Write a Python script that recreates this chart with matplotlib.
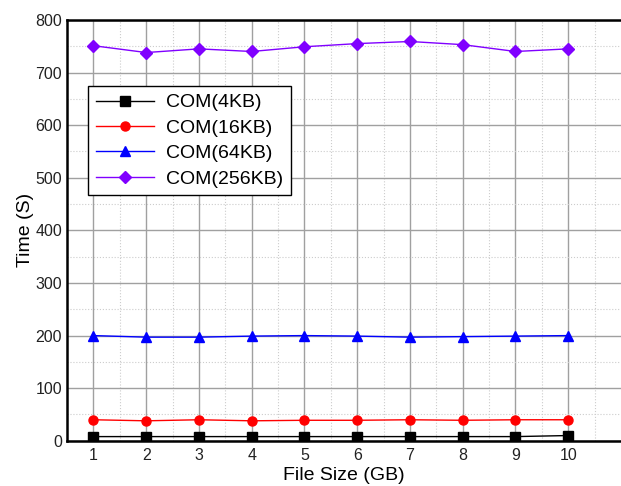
import numpy as np
import matplotlib.pyplot as plt

plt.rcParams['font.family'] = ['Liberation Sans', 'DejaVu Sans']

# file size in GB
sizes = [1, 2, 3, 4, 5, 6, 7, 8, 9, 10]

# time in seconds for each chunk size
com_4kb = [8, 8, 8, 8, 8, 8, 8, 8, 8, 10]
com_16kb = [40, 38, 40, 38, 39, 39, 40, 39, 40, 40]
com_64kb = [200, 197, 197, 199, 200, 199, 197, 198, 199, 200]
com_256kb = [751, 738, 745, 740, 749, 755, 759, 753, 740, 745]

series = [
    ("COM(4KB)", com_4kb, "black", "s"),
    ("COM(16KB)", com_16kb, "red", "o"),
    ("COM(64KB)", com_64kb, "blue", "^"),
    ("COM(256KB)", com_256kb, "#8000ff", "D"),
]

fig = plt.figure(figsize=(6.21, 4.86), dpi=100)
ax = fig.add_axes([0.108, 0.093, 0.892, 0.866])

for label, vals, col, mk in series:
    ax.plot(sizes, vals, color=col, marker=mk, markersize=6.5, linewidth=1, label=label)

ax.set_xlim(0.5, 11)
ax.set_ylim(0, 800)
ax.set_xticks(sizes)
ax.set_yticks(np.arange(0, 801, 100))
ax.set_xticks(np.arange(1.5, 10.6, 1), minor=True)
ax.set_yticks(np.arange(50, 800, 100), minor=True)
ax.tick_params(which='both', length=0, labelsize=11.5, colors='#222222')
ax.tick_params(axis='x', pad=5)
ax.grid(which='major', color='#a0a0a0', linewidth=1)
ax.grid(which='minor', color='#cccccc', linestyle=':', linewidth=0.8)
ax.set_axisbelow(True)
for s in ['left', 'bottom', 'top']:
    ax.spines[s].set_linewidth(1.8)
ax.spines['right'].set_visible(False)

ax.set_xlabel("File Size (GB)", fontsize=14, labelpad=3)
ax.set_ylabel("Time (S)", fontsize=14, labelpad=1)

ax.legend(loc='upper left', bbox_to_anchor=(0.038, 0.843), fontsize=14,
          fancybox=False, edgecolor='black', framealpha=1,
          handlelength=3.0, borderpad=0.4, labelspacing=0.4,
          handletextpad=0.6, borderaxespad=0)

fig.savefig("out.png", dpi=100)
